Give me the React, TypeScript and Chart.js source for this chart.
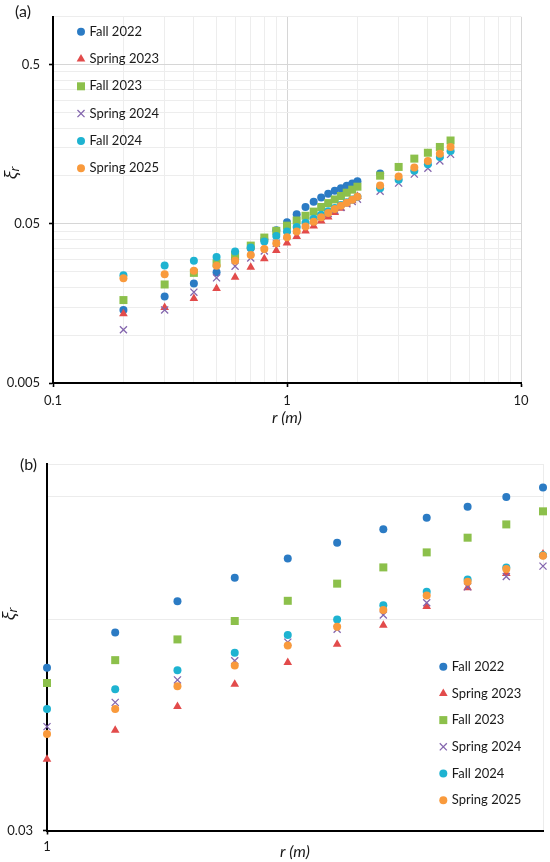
import React, { useEffect, useRef } from 'react';
import { Chart, registerables } from 'chart.js';

Chart.register(...registerables);

// ---------------- data ----------------
const seriesNames = ['Fall 2022', 'Spring 2023', 'Fall 2023', 'Spring 2024', 'Fall 2024', 'Spring 2025'];

const rValues = [0.2, 0.3, 0.4, 0.5, 0.6, 0.7, 0.8, 0.9, 1.0, 1.1, 1.2, 1.3, 1.4, 1.5, 1.6, 1.7, 1.8, 1.9, 2.0, 2.5, 3.0, 3.5, 4.0, 4.5, 5.0];

const fall2022 = [0.0144, 0.0175, 0.0211, 0.0248, 0.0300, 0.0351, 0.0400, 0.0456, 0.0512, 0.0575, 0.0637, 0.0688, 0.0733, 0.0772, 0.0807, 0.0838, 0.0869, 0.0897, 0.0926, 0.1036, null, null, null, null, null];
const spring2023 = [0.0136, 0.0149, 0.0170, 0.0196, 0.0231, 0.0267, 0.0302, 0.0340, 0.0379, 0.0417, 0.0451, 0.0485, 0.0521, 0.0553, 0.0589, 0.0626, 0.0666, 0.0698, 0.0744, null, null, null, null, null, null];
const fall2023 = [0.0166, 0.0208, 0.0246, 0.0283, 0.0319, 0.0365, 0.0410, 0.0452, 0.0487, 0.0525, 0.0562, 0.0597, 0.0638, 0.0675, 0.0712, 0.0748, 0.0785, 0.0820, 0.0856, 0.1004, 0.1139, 0.1285, 0.1399, 0.1521, 0.1670];
const spring2024 = [0.0108, 0.0144, 0.0186, 0.0229, 0.0271, 0.0305, 0.0338, 0.0378, 0.0422, 0.0457, 0.0492, 0.0524, 0.0557, 0.0581, 0.0609, 0.0634, 0.0668, 0.0691, 0.0715, 0.0802, 0.0902, 0.1027, 0.1118, 0.1243, 0.1367];
const fall2024 = [0.0238, 0.0274, 0.0293, 0.0310, 0.0335, 0.0355, 0.0387, 0.0419, 0.0447, 0.0477, 0.0508, 0.0538, 0.0570, 0.0600, 0.0629, 0.0657, 0.0684, 0.0712, 0.0741, 0.0837, 0.0948, 0.1077, 0.1186, 0.1314, 0.1434];
const spring2025 = [0.0228, 0.0241, 0.0254, 0.0273, 0.0293, 0.0319, 0.0348, 0.0377, 0.0412, 0.0447, 0.0482, 0.0516, 0.0551, 0.0586, 0.0619, 0.0649, 0.0679, 0.0708, 0.0740, 0.0870, 0.0993, 0.1128, 0.1243, 0.1380, 0.1520];

// tick values
const topXTicks = [0.1, 0.2, 0.3, 0.4, 0.5, 0.6, 0.7, 0.8, 0.9, 1, 2, 3, 4, 5, 6, 7, 8, 9, 10];
const topXLabeled = [0.1, 1, 10];
const topYTicks = [0.005, 0.01, 0.015, 0.02, 0.025, 0.03, 0.035, 0.04, 0.045, 0.05, 0.1, 0.15, 0.2, 0.25, 0.3, 0.35, 0.4, 0.45, 0.5, 1];
const topYLabeled = [0.005, 0.05, 0.5];
const bottomXTicks = [1, 2];
const bottomXLabeled = [1];
const bottomYTicks = [0.03, 0.06, 0.09, 0.1];
const bottomYLabeled = [0.03];

const xAxisTitle = 'r (m)';
const yAxisTitleMain = 'ξ';
const yAxisTitleSub = 'r';

// ---------------- styles ----------------
const seriesColors = ['#2B7BC4', '#E24B4B', '#8CC04B', '#8466AE', '#1EB3D1', '#F99A3C'];
const markerStyles = [
  { pointStyle: 'circle', radius: 4, borderWidth: 0 },
  { pointStyle: 'triangle', radius: 5, borderWidth: 0 },
  { pointStyle: 'rect', radius: 5.66, borderWidth: 0 },
  { pointStyle: 'crossRot', radius: 5, borderWidth: 1.3 },
  { pointStyle: 'circle', radius: 4, borderWidth: 0 },
  { pointStyle: 'circle', radius: 4, borderWidth: 0 },
];
const fontFamily = 'Lato, "Noto Sans", "DejaVu Sans", sans-serif';
const textColor = '#1a1a1a';

function isIn(list: number[], v: number) {
  return list.some((t) => Math.abs(t - v) < Math.abs(t) * 1e-6);
}

function drawMarker(ctx: CanvasRenderingContext2D, i: number, x: number, y: number) {
  const m = markerStyles[i];
  const r = m.radius;
  ctx.save();
  ctx.fillStyle = seriesColors[i];
  ctx.strokeStyle = seriesColors[i];
  ctx.lineWidth = m.borderWidth;
  ctx.beginPath();
  if (m.pointStyle === 'circle') {
    ctx.arc(x, y, r, 0, Math.PI * 2);
    ctx.fill();
  } else if (m.pointStyle === 'triangle') {
    ctx.moveTo(x, y - r);
    ctx.lineTo(x + r * Math.sin((2 * Math.PI) / 3), y - r * Math.cos((2 * Math.PI) / 3));
    ctx.lineTo(x + r * Math.sin((4 * Math.PI) / 3), y - r * Math.cos((4 * Math.PI) / 3));
    ctx.closePath();
    ctx.fill();
  } else if (m.pointStyle === 'rect') {
    const s = r * Math.SQRT1_2;
    ctx.rect(x - s, y - s, 2 * s, 2 * s);
    ctx.fill();
  } else {
    const s = r * Math.SQRT1_2;
    ctx.moveTo(x - s, y - s);
    ctx.lineTo(x + s, y + s);
    ctx.moveTo(x + s, y - s);
    ctx.lineTo(x - s, y + s);
    ctx.stroke();
  }
  ctx.restore();
}

interface Annot {
  panel: string;
  panelX: number;
  panelY: number;
  xTitleY: number;
  yTitleX: number;
  yTitleY: number;
  legendX: number;
  legendY: number;
  legendGap: number;
}

function makeAnnotPlugin(a: Annot) {
  return {
    id: 'annot',
    afterDraw(chart: any) {
      const ctx: CanvasRenderingContext2D = chart.ctx;
      const area = chart.chartArea;
      ctx.save();
      ctx.fillStyle = textColor;
      ctx.textBaseline = 'middle';
      ctx.textAlign = 'left';
      ctx.font = `16px ${fontFamily}`;
      ctx.fillText(a.panel, a.panelX, a.panelY);

      ctx.textAlign = 'center';
      ctx.font = `italic 16px ${fontFamily}`;
      ctx.fillText(xAxisTitle, (area.left + area.right) / 2, a.xTitleY);

      // rotated y title
      ctx.save();
      ctx.translate(a.yTitleX, a.yTitleY);
      ctx.rotate(-Math.PI / 2);
      const mainFont = 'italic 17px "Noto Sans", "DejaVu Sans", sans-serif';
      const subFont = 'italic 12px "Noto Sans", "DejaVu Sans", sans-serif';
      ctx.font = mainFont;
      const w1 = ctx.measureText(yAxisTitleMain).width;
      ctx.font = subFont;
      const w2 = ctx.measureText(yAxisTitleSub).width;
      const start = -(w1 + w2) / 2;
      ctx.textAlign = 'left';
      ctx.font = mainFont;
      ctx.fillText(yAxisTitleMain, start, 0);
      ctx.font = subFont;
      ctx.fillText(yAxisTitleSub, start + w1, 4);
      ctx.restore();

      // legend
      ctx.textAlign = 'left';
      ctx.textBaseline = 'middle';
      ctx.font = `13px ${fontFamily}`;
      seriesNames.forEach((name, i) => {
        const y = a.legendY + i * a.legendGap;
        drawMarker(ctx, i, a.legendX, y);
        ctx.fillStyle = textColor;
        ctx.fillText(name, a.legendX + 8.5, y);
      });
      ctx.restore();
    },
  };
}

function buildDatasets(xMin: number, xMax: number) {
  const all = [fall2022, spring2023, fall2023, spring2024, fall2024, spring2025];
  return all.map((vals, i) => ({
    label: seriesNames[i],
    data: rValues
      .map((r, j) => ({ x: r, y: vals[j] }))
      .filter((p) => p.y !== null && p.x >= xMin - 1e-9 && p.x <= xMax + 1e-9),
    pointStyle: markerStyles[i].pointStyle,
    pointRadius: markerStyles[i].radius,
    pointHoverRadius: markerStyles[i].radius,
    pointBorderWidth: markerStyles[i].borderWidth,
    pointHoverBorderWidth: markerStyles[i].borderWidth,
    pointBackgroundColor: seriesColors[i],
    pointBorderColor: seriesColors[i],
    showLine: false,
    order: all.length - i,
    clip: false as any,
  }));
}

function logAxis(opts: {
  min: number;
  max: number;
  ticks: number[];
  labeled: number[];
  size: number;
  horizontal: boolean;
  padding: number;
  majorGrid: string;
  minorGrid: string;
  majorList: number[];
}) {
  return {
    type: 'logarithmic' as const,
    min: opts.min,
    max: opts.max,
    afterBuildTicks: (s: any) => {
      s.ticks = opts.ticks.map((v) => ({ value: v }));
    },
    afterFit: (s: any) => {
      if (opts.horizontal) s.height = opts.size;
      else s.width = opts.size;
    },
    ticks: {
      autoSkip: false,
      maxRotation: 0,
      padding: opts.padding,
      color: textColor,
      font: { family: fontFamily, size: 13 },
      callback: (v: any) => (isIn(opts.labeled, Number(v)) ? String(Number(v)) : ''),
    },
    grid: {
      color: (c: any) =>
        c.tick && isIn(opts.majorList, c.tick.value) ? opts.majorGrid : opts.minorGrid,
      lineWidth: 1,
      drawTicks: true,
      tickLength: 4,
      tickWidth: 1.6,
      tickColor: (c: any) => (c.tick && isIn(opts.labeled, c.tick.value) ? '#000' : 'rgba(0,0,0,0)'),
    },
    border: { display: true, color: '#000', width: 2 },
    title: { display: false },
  };
}

function topConfig(): any {
  return {
    type: 'scatter',
    data: { datasets: buildDatasets(0.1, 10) },
    options: {
      animation: false,
      responsive: true,
      maintainAspectRatio: false,
      events: [],
      layout: { padding: { top: 13, right: 29, left: 0, bottom: 0 } },
      plugins: { legend: { display: false }, tooltip: { enabled: false } },
      scales: {
        x: logAxis({
          min: 0.1, max: 10, ticks: topXTicks, labeled: topXLabeled, size: 49, horizontal: true,
          padding: 6, majorGrid: '#d6d6d6', minorGrid: '#ededed', majorList: topXLabeled,
        }),
        y: logAxis({
          min: 0.005, max: 1, ticks: topYTicks, labeled: topYLabeled, size: 53, horizontal: false,
          padding: 9, majorGrid: '#d6d6d6', minorGrid: '#ededed', majorList: topYLabeled,
        }),
      },
    },
    plugins: [
      makeAnnotPlugin({
        panel: '(a)', panelX: 15, panelY: 12, xTitleY: 418, yTitleX: 12, yTitleY: 173,
        legendX: 81, legendY: 31.7, legendGap: 27.3,
      }),
    ],
  };
}

function bottomConfig(): any {
  return {
    type: 'scatter',
    data: { datasets: buildDatasets(1, 2) },
    options: {
      animation: false,
      responsive: true,
      maintainAspectRatio: false,
      events: [],
      layout: { padding: { top: 32, right: 7, left: 0, bottom: 0 } },
      plugins: { legend: { display: false }, tooltip: { enabled: false } },
      scales: {
        x: logAxis({
          min: 1, max: 2, ticks: bottomXTicks, labeled: bottomXLabeled, size: 31.5, horizontal: true,
          padding: 5, majorGrid: 'rgba(0,0,0,0)', minorGrid: '#ececec', majorList: bottomXLabeled,
        }),
        y: logAxis({
          min: 0.03, max: 0.1, ticks: bottomYTicks, labeled: bottomYLabeled, size: 47, horizontal: false,
          padding: 10, majorGrid: '#ececec', minorGrid: '#ececec', majorList: bottomYLabeled,
        }),
      },
    },
    plugins: [
      makeAnnotPlugin({
        panel: '(b)', panelX: 20, panelY: 33, xTitleY: 419.5, yTitleX: 10, yTitleY: 182,
        legendX: 443.3, legendY: 234.7, legendGap: 26.7,
      }),
    ],
  };
}

export default function App() {
  const topRef = useRef<HTMLCanvasElement>(null);
  const bottomRef = useRef<HTMLCanvasElement>(null);

  useEffect(() => {
    const c1 = new Chart(topRef.current as HTMLCanvasElement, topConfig());
    const c2 = new Chart(bottomRef.current as HTMLCanvasElement, bottomConfig());
    return () => {
      c1.destroy();
      c2.destroy();
    };
  }, []);

  return (
    <div style={{ position: 'absolute', left: 0, top: 0, width: 550, height: 862, background: '#fff' }}>
      <div style={{ position: 'relative', width: 550, height: 432 }}>
        <canvas ref={topRef} />
      </div>
      <div style={{ position: 'relative', width: 550, height: 430 }}>
        <canvas ref={bottomRef} />
      </div>
    </div>
  );
}
